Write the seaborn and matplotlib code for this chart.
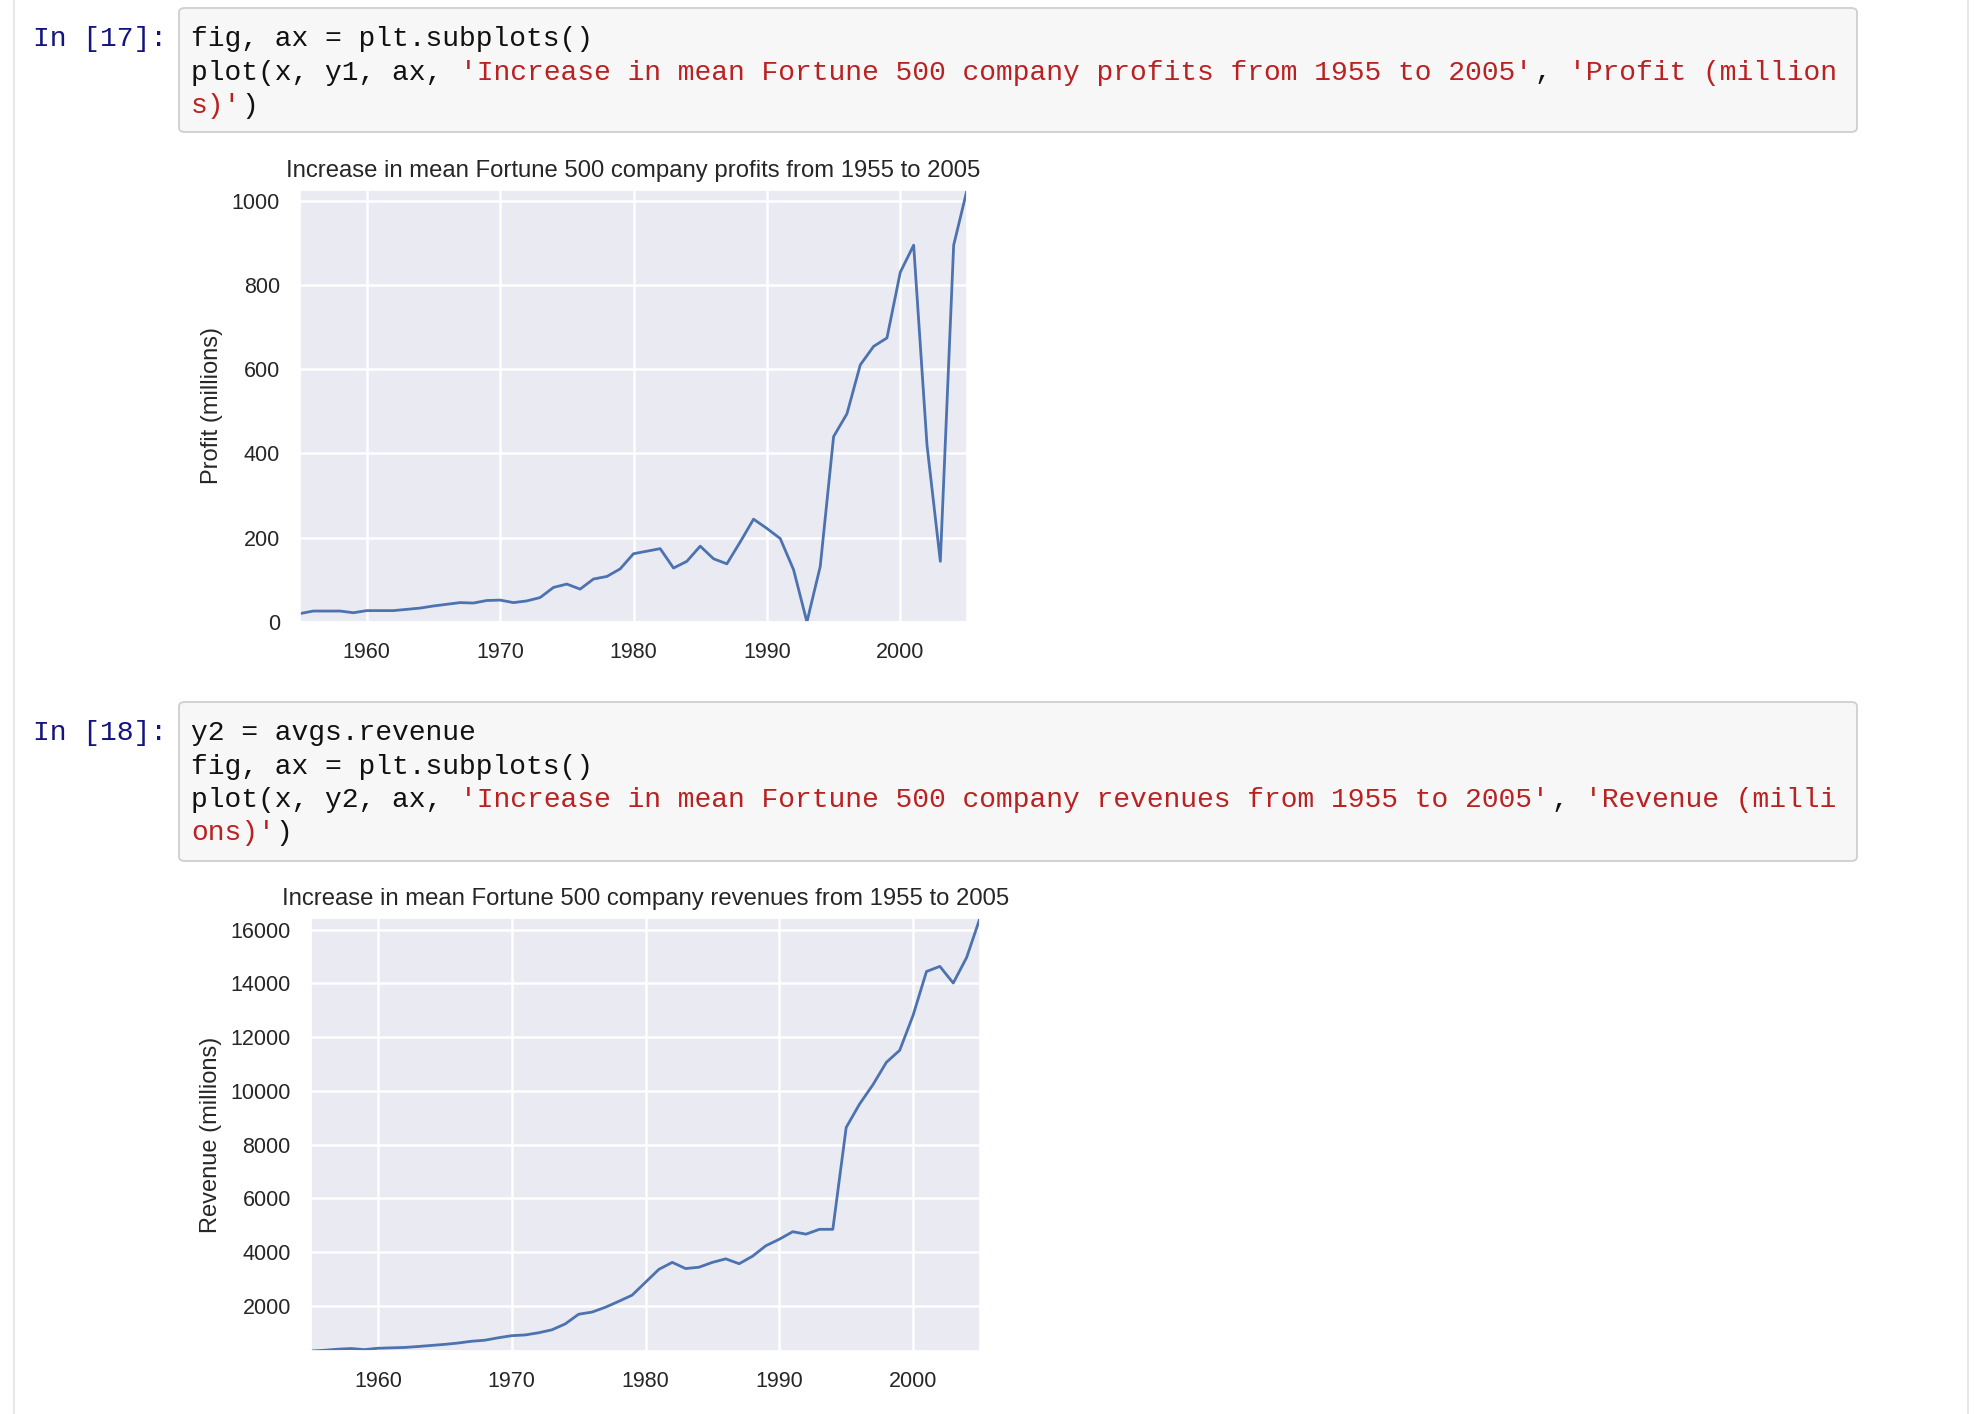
import numpy as np
import pandas as pd
import seaborn as sns
import matplotlib.pyplot as plt
from matplotlib.patches import FancyBboxPatch
from matplotlib.lines import Line2D
from matplotlib.ticker import MultipleLocator

# Data #######################################################################

years = list(range(1955, 2006))

profits = [20, 26, 26, 26, 22, 27, 27, 27, 30, 33,
           38, 42, 46, 45, 51, 52, 46, 50, 58, 82,
           90, 78, 102, 108, 126, 162, 168, 174, 128, 144,
           180, 150, 138, 190, 244, 222, 198, 124, 0, 132,
           440, 494, 610, 654, 674, 830, 894, 420, 144, 894,
           1025]

revenues = [323, 350, 390, 415, 375, 425, 440, 455, 490, 530,
            570, 620, 685, 725, 815, 893, 920, 1000, 1110, 1330,
            1690, 1770, 1950, 2170, 2400, 2880, 3360, 3620, 3390, 3440,
            3620, 3750, 3570, 3850, 4240, 4480, 4760, 4670, 4850, 4850,
            8640, 9510, 10230, 11060, 11510, 12810, 14440, 14630, 14010, 14960,
            16430]

titles = ['Increase in mean Fortune 500 company profits from 1955 to 2005',
          'Increase in mean Fortune 500 company revenues from 1955 to 2005']
ylabels = ['Profit (millions)', 'Revenue (millions)']

prompts = ['In [17]:', 'In [18]:']
cell1 = [
    [("fig, ax = plt.subplots()", "code")],
    [("plot(x, y1, ax, ", "code"),
     ("'Increase in mean Fortune 500 company profits from 1955 to 2005'", "str"),
     (", ", "code"), ("'Profit (million", "str")],
    [("s)'", "str"), (")", "code")],
]
cell2 = [
    [("y2 = avgs.revenue", "code")],
    [("fig, ax = plt.subplots()", "code")],
    [("plot(x, y2, ax, ", "code"),
     ("'Increase in mean Fortune 500 company revenues from 1955 to 2005'", "str"),
     (", ", "code"), ("'Revenue (milli", "str")],
    [("ons)'", "str"), (")", "code")],
]

# Figure ######################################################################

W, H = 1982, 1414
sns.set_theme(style="darkgrid", rc={'grid.linewidth': 1.8})
plt.rcParams['font.family'] = ['Liberation Sans', 'DejaVu Sans']

fig = plt.figure(figsize=(W / 100, H / 100), dpi=100)
fig.patch.set_facecolor('white')

def fx(px):
    return px / W

def fy(py):
    return 1 - py / H

# notebook frame lines
for xp in [14, 1968]:
    fig.add_artist(Line2D([fx(xp), fx(xp)], [0, 1], color='#e3e3e3', lw=1.2))

# code cells
colors = {"code": "#111111", "str": "#BA2121"}
char_w = 16.8
mono = 'Liberation Mono'
mono_size = char_w / 0.6 * 72 / 100

def code_cell(prompt, lines, top, bottom, first_line, step=33.5):
    box = FancyBboxPatch((fx(179), fy(bottom)), fx(1857) - fx(179), fy(top) - fy(bottom),
                         boxstyle="round,pad=0,rounding_size=0.003",
                         transform=fig.transFigure, facecolor='#f7f7f7',
                         edgecolor='#cfcfcf', lw=1.3)
    fig.add_artist(box)
    fig.text(fx(33), fy(first_line), prompt, family=mono, fontsize=mono_size,
             color='#141480', va='center', ha='left')
    for i, segs in enumerate(lines):
        y = first_line + i * step
        n = 0
        for s, kind in segs:
            fig.text(fx(191 + n * char_w), fy(y), s, family=mono, fontsize=mono_size,
                     color=colors[kind], va='center', ha='left')
            n += len(s)

code_cell(prompts[0], cell1, 8, 132, 39)
code_cell(prompts[1], cell2, 702, 861, 733)

# charts
boxes = [(300, 967, 190, 622), (311, 980, 918, 1351)]
series = [profits, revenues]
ysteps = [200, 2000]
line_color = sns.color_palette('deep')[0]

for (l, r, t, b), y, title, ylab, step in zip(boxes, series, titles, ylabels, ysteps):
    ax = fig.add_axes([fx(l), fy(b), fx(r) - fx(l), fy(t) - fy(b)])
    sns.lineplot(x=years, y=y, ax=ax, color=line_color, linewidth=2.0)
    ax.margins(0)
    ax.xaxis.set_major_locator(MultipleLocator(10))
    ax.yaxis.set_major_locator(MultipleLocator(step))
    ax.set_title(title, fontsize=17.2, color='#262626', pad=9)
    ax.set_ylabel(ylab, fontsize=17, color='#262626', labelpad=6)
    ax.set_xlabel('')
    ax.tick_params(labelsize=15.5, colors='#262626', pad=8.5)

fig.savefig('out.png', dpi=100)
